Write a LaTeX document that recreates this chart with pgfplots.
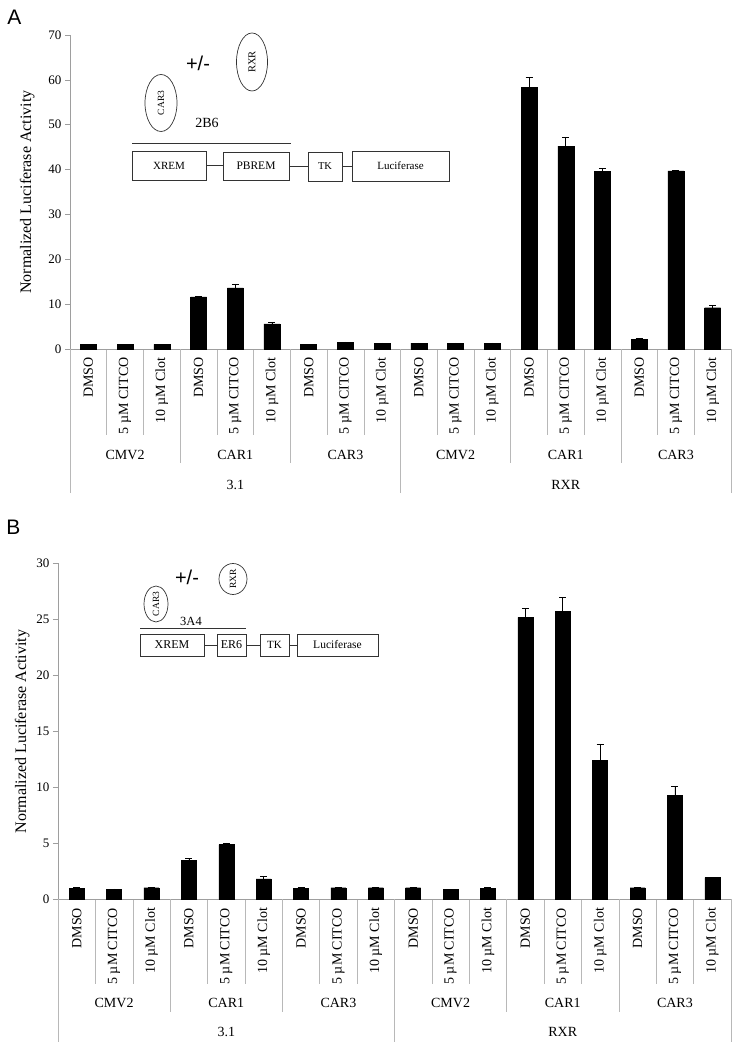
\documentclass[border=0pt]{standalone}
\usepackage{fontspec}
\setmainfont{Liberation Serif}
\newfontfamily\arial{Liberation Sans}
\usepackage{pgfplots}
\pgfplotsset{compat=1.18}

\definecolor{axgray}{gray}{0.62}
\definecolor{sepgray}{gray}{0.72}

\pgfplotsset{
  luc/.style={
    scale only axis,
    axis lines=left,
    axis line style={-, axgray, line width=0.6pt},
    ymin=0,
    xmin=-0.5, xmax=17.5,
    ybar,
    xtick={0,...,17},
    xticklabels={DMSO,5 µM CITCO,10 µM Clot,DMSO,5 µM CITCO,10 µM Clot,DMSO,5 µM CITCO,10 µM Clot,DMSO,5 µM CITCO,10 µM Clot,DMSO,5 µM CITCO,10 µM Clot,DMSO,5 µM CITCO,10 µM Clot},
    every major x tick/.append style={draw=none},
    minor xtick={0.5,1.5,...,16.5},
    minor tick length=86pt,
    every minor x tick/.append style={sepgray, line width=0.5pt},
    major tick length=5pt,
    every major y tick/.append style={axgray, line width=0.6pt},
    tick align=outside,
    x tick label style={rotate=90, anchor=east, font=\fontsize{14}{14}\selectfont},
    y tick label style={font=\fontsize{13}{13}\selectfont},
    /pgf/number format/assume math mode=true,
    ylabel={Normalized Luciferase Activity},
    ylabel style={font=\fontsize{16}{16}\selectfont},
    clip=false,
  },
  errb/.style={fill=black, draw=black,
    error bars/.cd, y dir=plus, y explicit,
    error bar style={black, line width=0.6pt},
    error mark options={rotate=90, black, mark size=3.5pt, line width=0.6pt}},
}

\begin{document}
\begin{tikzpicture}
\path[use as bounding box] (0pt,0pt) rectangle (740pt,1048pt);

% ---------------- Panel A ----------------
\begin{axis}[luc, at={(70pt,699pt)}, anchor=south west,
  width=661pt, height=314pt, ymax=70, ytick={0,10,...,70}, bar width=16pt,
  ylabel shift=7pt]
\addplot[errb] coordinates {
 (0,1.05) +- (0,0.05) (1,1.05) +- (0,0.05) (2,1.05) +- (0,0.05)
 (3,11.6) +- (0,0.2) (4,13.6) +- (0,0.9) (5,5.6) +- (0,0.4)
 (6,1.05) +- (0,0.05) (7,1.55) +- (0,0.05) (8,1.3) +- (0,0.05)
 (9,1.3) +- (0,0.05) (10,1.2) +- (0,0.15) (11,1.3) +- (0,0.05)
 (12,58.4) +- (0,2.2) (13,45.2) +- (0,2.1) (14,39.6) +- (0,0.7)
 (15,2.1) +- (0,0.2) (16,39.7) +- (0,0.1) (17,9.2) +- (0,0.45)
};
\pgfplotsinvokeforeach{2.5,5.5,11.5,14.5}{\draw[sepgray, line width=0.5pt] (axis cs:#1,0) -- ([yshift=-114pt]axis cs:#1,0);}
\pgfplotsinvokeforeach{-0.5,8.5,17.5}{\draw[sepgray, line width=0.5pt] (axis cs:#1,0) -- ([yshift=-144pt]axis cs:#1,0);}
\node[font=\fontsize{14}{14}\selectfont, yshift=-106pt] at (axis cs:1,0) {CMV2};
\node[font=\fontsize{14}{14}\selectfont, yshift=-106pt] at (axis cs:4,0) {CAR1};
\node[font=\fontsize{14}{14}\selectfont, yshift=-106pt] at (axis cs:7,0) {CAR3};
\node[font=\fontsize{14}{14}\selectfont, yshift=-106pt] at (axis cs:10,0) {CMV2};
\node[font=\fontsize{14}{14}\selectfont, yshift=-106pt] at (axis cs:13,0) {CAR1};
\node[font=\fontsize{14}{14}\selectfont, yshift=-106pt] at (axis cs:16,0) {CAR3};
\node[font=\fontsize{14}{14}\selectfont, yshift=-136pt] at (axis cs:4,0) {3.1};
\node[font=\fontsize{14}{14}\selectfont, yshift=-136pt] at (axis cs:13,0) {RXR};
\end{axis}

% ---------------- Panel B ----------------
\begin{axis}[luc, at={(58pt,148.5pt)}, anchor=south west,
  width=673pt, height=336pt, ymax=30, ytick={0,5,...,30}, bar width=15pt,
  minor tick length=84pt]
\addplot[errb] coordinates {
 (0,1.0) +- (0,0.05) (1,0.9) +- (0,0.05) (2,1.05) +- (0,0.03)
 (3,3.5) +- (0,0.15) (4,4.9) +- (0,0.15) (5,1.85) +- (0,0.2)
 (6,1.0) +- (0,0.05) (7,1.05) +- (0,0.05) (8,1.05) +- (0,0.05)
 (9,1.05) +- (0,0.05) (10,0.9) +- (0,0.03) (11,1.0) +- (0,0.05)
 (12,25.2) +- (0,0.8) (13,25.7) +- (0,1.25) (14,12.4) +- (0,1.5)
 (15,1.05) +- (0,0.03) (16,9.3) +- (0,0.8) (17,1.95) +- (0,0.03)
};
\pgfplotsinvokeforeach{2.5,5.5,11.5,14.5}{\draw[sepgray, line width=0.5pt] (axis cs:#1,0) -- ([yshift=-112.5pt]axis cs:#1,0);}
\pgfplotsinvokeforeach{-0.5,8.5,17.5}{\draw[sepgray, line width=0.5pt] (axis cs:#1,0) -- ([yshift=-142.5pt]axis cs:#1,0);}
\node[font=\fontsize{14}{14}\selectfont, yshift=-103.5pt] at (axis cs:1,0) {CMV2};
\node[font=\fontsize{14}{14}\selectfont, yshift=-103.5pt] at (axis cs:4,0) {CAR1};
\node[font=\fontsize{14}{14}\selectfont, yshift=-103.5pt] at (axis cs:7,0) {CAR3};
\node[font=\fontsize{14}{14}\selectfont, yshift=-103.5pt] at (axis cs:10,0) {CMV2};
\node[font=\fontsize{14}{14}\selectfont, yshift=-103.5pt] at (axis cs:13,0) {CAR1};
\node[font=\fontsize{14}{14}\selectfont, yshift=-103.5pt] at (axis cs:16,0) {CAR3};
\node[font=\fontsize{14}{14}\selectfont, yshift=-132.5pt] at (axis cs:4,0) {3.1};
\node[font=\fontsize{14}{14}\selectfont, yshift=-132.5pt] at (axis cs:13,0) {RXR};
\end{axis}

% ---------------- Schematics and panel letters ----------------
\begin{scope}[x=1pt, y=-1pt, shift={(0pt,1048pt)}, line width=0.7pt, draw=black!80]
\node[font=\arial\fontsize{21}{21}\selectfont] at (14.5,17.5) {A};
\node[font=\arial\fontsize{21}{21}\selectfont] at (13.5,527) {B};

% panel A schematic
\draw (252,62) ellipse [x radius=15.5pt, y radius=29pt];
\node[rotate=90, font=\fontsize{10.5}{10.5}\selectfont] at (252,62) {RXR};
\draw (161,103) ellipse [x radius=16pt, y radius=28.5pt];
\node[rotate=90, font=\fontsize{9.5}{9.5}\selectfont] at (161,103) {CAR3};
\node[font=\arial\fontsize{20}{20}\selectfont] at (198,63) {+/-};
\node[font=\fontsize{14}{14}\selectfont] at (207,123) {2B6};
\draw (132,143) -- (291,143);
\draw (132,151) rectangle (206,180);
\node[font=\fontsize{11}{11}\selectfont] at (169,165.5) {XREM};
\draw (223,152) rectangle (289,180);
\node[font=\fontsize{11.5}{11.5}\selectfont] at (256,166) {PBREM};
\draw (308,152) rectangle (342,181);
\node[font=\fontsize{10.5}{10.5}\selectfont] at (325,166.5) {TK};
\draw (352,151) rectangle (449,181);
\node[font=\fontsize{11}{11}\selectfont] at (400.5,166) {Luciferase};
\draw (206,165.5) -- (223,165.5);
\draw (289,166) -- (308,166);
\draw (342,166) -- (352,166);

% panel B schematic
\draw (156,604) ellipse [x radius=12pt, y radius=18pt];
\node[rotate=90, font=\fontsize{9.5}{9.5}\selectfont] at (156,604) {CAR3};
\draw (233,579) ellipse [x radius=14pt, y radius=15.5pt];
\node[rotate=90, font=\fontsize{9.5}{9.5}\selectfont] at (233,579) {RXR};
\node[font=\arial\fontsize{20}{20}\selectfont] at (187,577) {+/-};
\node[font=\fontsize{12.5}{12.5}\selectfont] at (191,621) {3A4};
\draw (140,628) -- (246,628);
\draw (140,634) rectangle (204,656);
\node[font=\fontsize{12}{12}\selectfont] at (172,645) {XREM};
\draw (217,634) rectangle (246,656);
\node[font=\fontsize{12}{12}\selectfont] at (231.5,645) {ER6};
\draw (260,634) rectangle (289,656);
\node[font=\fontsize{11}{11}\selectfont] at (274.5,645) {TK};
\draw (297,634) rectangle (378,656);
\node[font=\fontsize{11.5}{11.5}\selectfont] at (337.5,645) {Luciferase};
\draw (204,645) -- (217,645);
\draw (246,645) -- (260,645);
\draw (289,645) -- (297,645);
\end{scope}
\end{tikzpicture}
\end{document}
